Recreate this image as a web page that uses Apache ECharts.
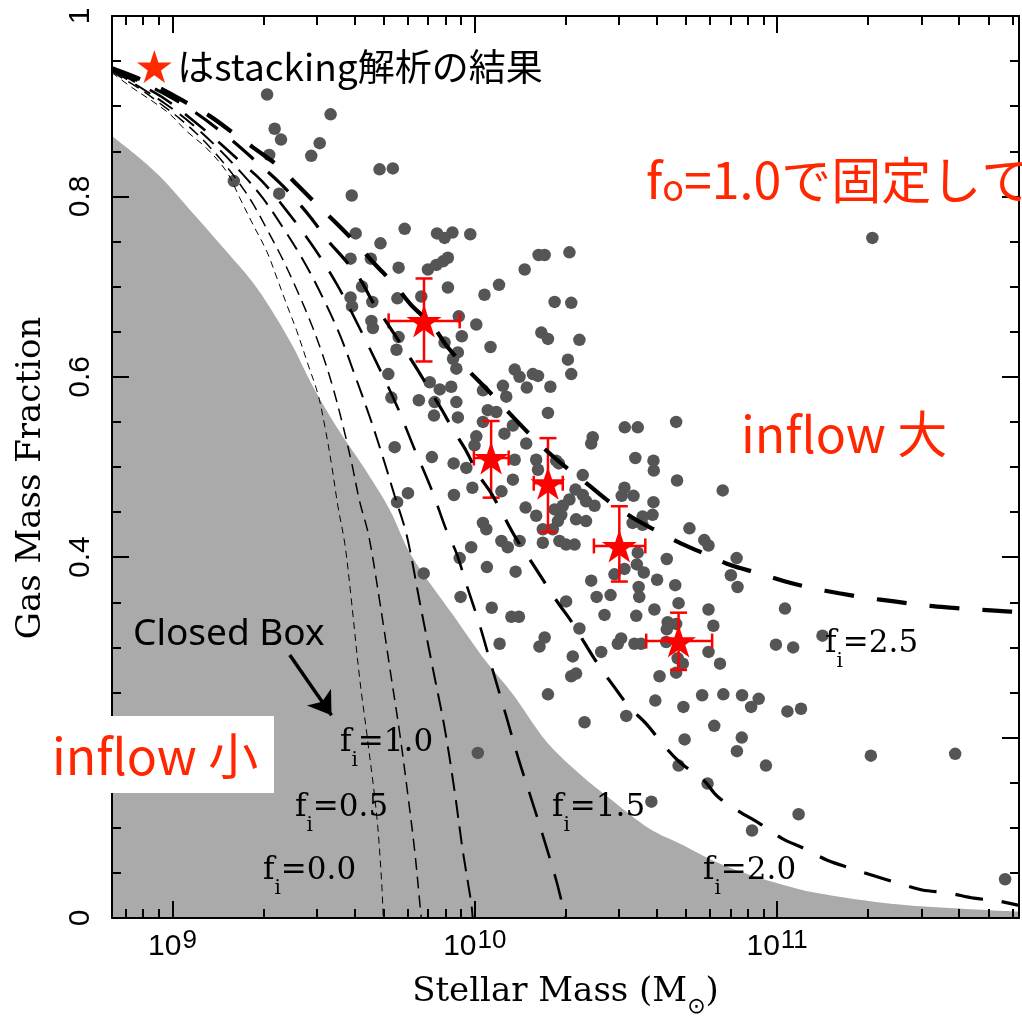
<!DOCTYPE html>
<html><head><meta charset="utf-8">
<style>html,body{margin:0;padding:0;background:#fff}#c{width:1022px;height:1023px}</style>
<script src="https://cdn.jsdelivr.net/npm/echarts@6/dist/echarts.min.js"></script>
</head><body><div id="c"></div><script>
// ---------- axis definitions ----------
const xMajorTicks = [9, 10, 11];             // log10(M*) of 10^9, 10^10, 10^11
const xTickExponents = ['9', '10', '11'];
const yMajorTicks = [0, 0.2, 0.4, 0.6, 0.8, 1];
const yTickLabels = ['0', '0.2', '0.4', '0.6', '0.8', '1'];
const yMinorTicks = [0.05,0.1,0.15,0.25,0.3,0.35,0.45,0.5,0.55,0.65,0.7,0.75,0.85,0.9,0.95];
const xMinorTicks = [];
[8, 9, 10, 11].forEach(function (n) { for (let k = 2; k <= 9; k++) { const v = Math.log10(k) + n; if (v > 8.8 && v < 11.8) xMinorTicks.push(v); } });

// ---------- closed box (grey region), log10 M* vs gas fraction ----------
const boxLogM = [8.80,8.879,8.959,9.058,9.168,9.278,9.388,9.465,9.542,9.630,9.718,9.790,9.928,10.038,10.126,10.236,10.346,10.456,10.578,10.688,10.798,10.908,11.018,11.128,11.348,11.569,11.80];
const boxFgas = [0.867,0.846,0.822,0.785,0.743,0.699,0.640,0.589,0.545,0.501,0.453,0.402,0.336,0.284,0.248,0.196,0.160,0.130,0.099,0.081,0.062,0.048,0.037,0.028,0.017,0.011,0.007];

// ---------- model curves (f_o = 1.0) ----------
const fi00LogM = [8.80,8.869,8.936,8.992,9.048,9.114,9.180,9.223,9.266,9.312,9.345,9.378,9.411,9.448,9.481,9.504,9.527,9.547,9.570,9.590,9.619,9.646,9.676,9.692,9.697];
const fi00Fgas = [0.937,0.920,0.905,0.891,0.872,0.853,0.827,0.798,0.769,0.739,0.710,0.680,0.651,0.614,0.581,0.545,0.501,0.457,0.415,0.358,0.266,0.196,0.112,0.039,0.0];
const fi05LogM = [8.80,8.893,8.959,9.025,9.091,9.157,9.216,9.266,9.315,9.362,9.408,9.454,9.494,9.530,9.563,9.593,9.619,9.649,9.686,9.719,9.752,9.778,9.801,9.818,9.823];
const fi05Fgas = [0.938,0.919,0.903,0.886,0.866,0.842,0.817,0.792,0.762,0.732,0.699,0.663,0.627,0.589,0.547,0.504,0.462,0.424,0.350,0.277,0.204,0.138,0.075,0.017,0.0];
const fi10LogM = [8.80,8.893,8.975,9.058,9.140,9.223,9.299,9.372,9.438,9.494,9.553,9.603,9.652,9.695,9.735,9.775,9.818,9.861,9.900,9.933,9.960,9.988,9.993];
const fi10Fgas = [0.940,0.921,0.903,0.882,0.857,0.828,0.798,0.762,0.726,0.690,0.647,0.602,0.556,0.512,0.468,0.424,0.350,0.277,0.211,0.141,0.075,0.017,0.0];
const fi15LogM = [8.80,8.893,8.975,9.058,9.140,9.223,9.296,9.378,9.464,9.543,9.613,9.679,9.742,9.798,9.857,9.907,9.940,9.973,10.016,10.059,10.102,10.145,10.188,10.231,10.270,10.30];
const fi15Fgas = [0.941,0.924,0.908,0.887,0.864,0.839,0.817,0.784,0.745,0.703,0.658,0.613,0.568,0.522,0.475,0.429,0.404,0.369,0.325,0.275,0.226,0.176,0.131,0.085,0.041,0.0];
const fi20LogM = [8.80,8.926,9.058,9.190,9.289,9.355,9.411,9.461,9.514,9.567,9.623,9.659,9.709,9.752,9.801,9.841,9.890,9.927,9.973,10.009,10.056,10.095,10.138,10.181,10.231,10.270,10.323,10.363,10.412,10.455,10.511,10.568,10.621,10.677,10.759,10.802,10.875,10.941,11.017,11.090,11.166,11.245,11.328,11.397,11.480,11.562,11.651,11.727,11.80];
const fi20Fgas = [0.941,0.922,0.897,0.864,0.835,0.815,0.795,0.775,0.751,0.731,0.707,0.685,0.660,0.638,0.613,0.591,0.564,0.542,0.517,0.493,0.470,0.446,0.420,0.398,0.372,0.352,0.327,0.305,0.279,0.259,0.234,0.215,0.193,0.173,0.152,0.135,0.118,0.105,0.088,0.077,0.064,0.055,0.046,0.039,0.031,0.028,0.022,0.019,0.014];
const fi25LogM = [8.80,8.893,8.965,9.051,9.124,9.206,9.272,9.352,9.415,9.481,9.543,9.613,9.669,9.735,9.791,9.857,9.910,9.976,10.032,10.105,10.165,10.231,10.297,10.373,10.439,10.521,10.597,10.683,10.759,10.848,10.931,11.027,11.113,11.205,11.295,11.387,11.476,11.575,11.658,11.757,11.80];
const fi25Fgas = [0.942,0.930,0.919,0.903,0.889,0.869,0.853,0.833,0.812,0.790,0.770,0.746,0.725,0.702,0.679,0.658,0.633,0.608,0.589,0.563,0.542,0.520,0.501,0.481,0.463,0.444,0.430,0.415,0.404,0.391,0.383,0.373,0.366,0.360,0.355,0.351,0.347,0.344,0.342,0.340,0.339];

// ---------- individual galaxies ----------
const galLogM = [9.313,9.523,9.338,9.359,9.487,9.459,9.320,9.203,9.353,9.593,9.685,9.729,9.606,9.768,9.875,9.900,9.926,9.985,
9.688,9.589,9.656,9.748,9.845,9.873,9.895,9.911,10.211,10.231,10.165,10.080,10.032,9.911,9.627,9.744,9.823,9.589,9.594,9.661,9.947,10.005,10.264,9.658,9.663,9.748,9.741,9.957,9.900,10.052,10.220,10.242,9.928,9.944,9.939,9.714,10.132,10.148,10.192,10.209,10.172,10.250,10.093,10.027,10.104,9.851,9.884,9.922,9.724,9.815,9.867,9.939,9.865,9.944,10.043,10.071,10.242,10.027,10.126,10.098,10.170,10.005,9.999,10.132,10.203,10.209,9.735,9.858,9.930,9.972,10.126,9.992,10.088,9.779,9.743,9.931,10.168,10.203,10.027,10.038,10.148,10.088,9.988,10.109,10.225,10.225,
10.313,10.319,10.346,10.308,10.319,10.496,10.539,10.666,10.390,10.385,
10.269,10.278,10.357,10.333,10.357,10.368,10.313,10.291,10.286,10.264,10.275,10.258,10.280,10.302,10.330,10.335,10.368,10.396,10.495,10.486,10.525,10.591,10.588,10.555,10.522,10.555,10.539,10.536,10.462,10.495,10.559,10.603,10.635,10.663,10.385,10.403,10.449,10.542,10.544,10.594,10.534,10.429,10.302,10.346,10.418,10.473,10.484,10.528,10.550,10.324,10.319,10.335,10.611,10.638,10.674,10.666,10.635,10.633,10.671,10.666,10.688,10.773,10.789,10.773,10.811,10.710,10.759,10.773,10.866,10.847,10.869,11.026,10.996,11.053,10.820,10.531,10.591,10.592,10.669,
11.150,10.597,10.690,10.752,10.822,10.884,10.939,10.914,11.034,11.079,10.792,10.694,10.883,10.867,10.963,10.674,10.770,11.310,11.589,11.071,10.917,11.754,10.584,
9.831,9.950,9.953,10.040,10.135,10.056,10.121,10.146,10.082,10.214,10.231,10.242,10.363,10.501,10.010,
11.315];
const galFgas = [0.913,0.891,0.875,0.863,0.859,0.845,0.846,0.817,0.803,0.801,0.830,0.831,0.759,0.764,0.759,0.754,0.760,0.758,
0.748,0.731,0.731,0.721,0.719,0.724,0.728,0.732,0.735,0.735,0.719,0.702,0.691,0.699,0.700,0.687,0.689,0.688,0.678,0.683,0.667,0.658,0.683,0.662,0.654,0.644,0.630,0.645,0.638,0.633,0.649,0.642,0.620,0.627,0.609,0.603,0.608,0.600,0.603,0.601,0.588,0.589,0.590,0.585,0.578,0.594,0.586,0.589,0.577,0.574,0.572,0.572,0.557,0.555,0.563,0.561,0.560,0.550,0.546,0.537,0.526,0.534,0.524,0.508,0.508,0.497,0.522,0.511,0.504,0.499,0.486,0.477,0.473,0.471,0.461,0.469,0.455,0.446,0.438,0.431,0.418,0.418,0.411,0.411,0.416,0.431,
0.738,0.682,0.641,0.619,0.603,0.544,0.544,0.550,0.533,0.526,
0.507,0.504,0.491,0.475,0.469,0.462,0.464,0.457,0.447,0.453,0.440,0.431,0.418,0.414,0.414,0.442,0.440,0.457,0.477,0.468,0.468,0.461,0.447,0.445,0.438,0.436,0.405,0.392,0.381,0.387,0.383,0.375,0.398,0.369,0.374,0.356,0.358,0.367,0.356,0.342,0.335,0.336,0.351,0.321,0.295,0.304,0.310,0.304,0.304,0.290,0.268,0.271,0.268,0.328,0.349,0.326,0.320,0.306,0.288,0.272,0.282,0.342,0.324,0.295,0.282,0.432,0.419,0.413,0.399,0.380,0.367,0.343,0.303,0.300,0.474,0.510,0.507,0.496,0.485,
0.313,0.241,0.234,0.247,0.248,0.247,0.243,0.234,0.229,0.232,0.213,0.198,0.200,0.185,0.169,0.169,0.149,0.180,0.182,0.115,0.097,0.043,0.129,
0.382,0.399,0.356,0.389,0.384,0.344,0.334,0.334,0.304,0.301,0.311,0.248,0.217,0.224,0.183,
0.754];

// ---------- stacking results ----------
const stackLogM   = [9.832, 10.054, 10.242, 10.478, 10.674];
const stackFgas   = [0.662, 0.510, 0.482, 0.4125, 0.307];
const stackLogMLo = [9.715, 9.997, 10.195, 10.394, 10.567];
const stackLogMHi = [9.950, 10.112, 10.291, 10.564, 10.785];
const stackFgasLo = [0.617, 0.466, 0.428, 0.373, 0.275];
const stackFgasHi = [0.709, 0.551, 0.532, 0.4565, 0.3385];

const STAR = 'path://M0,-100L22.45,-30.9L95.11,-30.9L36.33,11.8L58.78,80.9L0,38.2L-58.78,80.9L-36.33,11.8L-95.11,-30.9L-22.45,-30.9Z';
const STACK_NAME = 'はstacking解析の結果';
const BLACK = '#000';
const RED_TXT = '#ff2600';
const SERIF = 'DejaVu Serif';
const SANS = 'Liberation Sans';
const CJK = 'Noto Sans CJK JP';

function pairs(xs, ys) { return xs.map(function (x, i) { return [x, ys[i]]; }); }
function tickAxis(kind, pos, values, len, withLine) {
  const a = { type: 'value', position: pos, z: 10, silent: true,
    axisLine: { show: withLine, onZero: false, lineStyle: { color: BLACK, width: 2 } },
    axisTick: { show: true, inside: true, length: len, customValues: values, lineStyle: { color: BLACK, width: 2 } },
    axisLabel: { show: false }, splitLine: { show: false } };
  if (kind === 'x') { a.min = 8.8; a.max = 11.8; } else { a.min = 0; a.max = 1; }
  return a;
}
function curve(name, xs, ys, width, dash) {
  return { type: 'line', name: name, data: pairs(xs, ys), symbol: 'none', showSymbol: false,
    smooth: 0.35, silent: true, z: 6, clip: true,
    lineStyle: { color: BLACK, width: width, type: dash, cap: 'butt' } };
}

const xMain = tickAxis('x', 'bottom', xMajorTicks, 17, true);
xMain.axisLabel = { show: true, customValues: xMajorTicks, margin: 10,
  formatter: function (v) { const i = xMajorTicks.indexOf(Math.round(v)); return '{b|10}{s|' + xTickExponents[i] + '}'; },
  rich: { b: { fontSize: 30, fontFamily: SANS, color: BLACK, lineHeight: 34, verticalAlign: 'bottom' },
          s: { fontSize: 26, fontFamily: SANS, color: BLACK, lineHeight: 26, verticalAlign: 'top', padding: [0, 0, 12, 1] } } };
xMain.name = '{n|Stellar Mass (M}{sub|⊙}{n|)}';
xMain.nameLocation = 'middle';
xMain.nameGap = 57;
xMain.nameTextStyle = { rich: {
  n: { fontSize: 34, fontFamily: SERIF, color: BLACK, lineHeight: 34, verticalAlign: 'top' },
  sub: { fontSize: 22, fontFamily: 'DejaVu Sans', color: BLACK, lineHeight: 22, verticalAlign: 'top', padding: [21, 0, 0, 0] } } };

const yMain = tickAxis('y', 'left', yMajorTicks, 17, true);
yMain.axisLabel = { show: true, customValues: yMajorTicks, rotate: 90, margin: 16, fontSize: 30, fontFamily: SANS, color: BLACK,
  formatter: function (v) { let best = 0; yMajorTicks.forEach(function (t, i) { if (Math.abs(t - v) < Math.abs(yMajorTicks[best] - v)) best = i; }); return yTickLabels[best]; } };
yMain.name = 'Gas Mass Fraction';
yMain.nameLocation = 'middle';
yMain.nameRotate = 90;
yMain.nameGap = 64;
yMain.nameTextStyle = { fontSize: 34, fontFamily: SERIF, color: BLACK, padding: [0, 22, 0, 0] };

function fiLabel(val, x, yTop) {
  return { type: 'text', x: x, y: yTop, z: 60, silent: true,
    style: { text: '{m|f}{i|i}{m|=' + val + '}', align: 'left', verticalAlign: 'top',
      rich: { m: { fontSize: 31, fontFamily: SERIF, fill: BLACK, lineHeight: 31, verticalAlign: 'top' },
              i: { fontSize: 20, fontFamily: SERIF, fill: BLACK, lineHeight: 20, verticalAlign: 'top', padding: [24, 0, 0, 0] } } } };
}

const option = {
  animation: false,
  backgroundColor: '#ffffff',
  grid: { left: 112, right: 3, top: 16, bottom: 98, containLabel: false },
  legend: { left: 137, top: 48, padding: 0, itemWidth: 36, itemHeight: 33, selectedMode: false,
    data: [{ name: STACK_NAME, icon: STAR, itemStyle: { color: '#ff2a00' } }],
    textStyle: { fontSize: 37, fontFamily: CJK, color: BLACK } },
  xAxis: [xMain, tickAxis('x', 'bottom', xMinorTicks, 9, false), tickAxis('x', 'top', xMajorTicks, 17, true), tickAxis('x', 'top', xMinorTicks, 9, false)],
  yAxis: [yMain, tickAxis('y', 'left', yMinorTicks, 9, false), tickAxis('y', 'right', yMajorTicks, 17, true), tickAxis('y', 'right', yMinorTicks, 9, false)],
  series: [
    { type: 'line', name: 'Closed Box', data: pairs(boxLogM, boxFgas), symbol: 'none', showSymbol: false, silent: true,
      smooth: 0.35, z: 1, lineStyle: { width: 0, color: '#aaaaaa' },
      areaStyle: { color: '#aaaaaa', opacity: 1 } },
    { type: 'scatter', name: 'galaxies', data: pairs(galLogM, galFgas), symbol: 'circle', symbolSize: 12.5, silent: true, z: 3,
      itemStyle: { color: '#555555', opacity: 1 },
      markLine: { silent: true, symbol: ['none', 'arrow'], symbolSize: 22, label: { show: false },
        lineStyle: { color: BLACK, width: 3.5, type: 'solid' },
        data: [[{ coord: [9.388, 0.2915] }, { coord: [9.526, 0.2248] }]] } },
    { type: 'custom', name: 'errors', silent: true, z: 4, clip: true,
      data: stackLogM.map(function (x, i) { return [x, stackFgas[i], stackLogMLo[i], stackLogMHi[i], stackFgasLo[i], stackFgasHi[i]]; }),
      encode: { x: 0, y: 1 },
      renderItem: function (params, api) {
        const yv = api.value(1), xv = api.value(0);
        const xl = api.coord([api.value(2), yv]), xh = api.coord([api.value(3), yv]);
        const yl = api.coord([xv, api.value(4)]), yh = api.coord([xv, api.value(5)]);
        const st = { stroke: '#ff0000', lineWidth: 2.5 };
        const cv = 7.5, ch = 8.5;
        return { type: 'group', children: [
          { type: 'line', shape: { x1: xl[0], y1: xl[1], x2: xh[0], y2: xh[1] }, style: st },
          { type: 'line', shape: { x1: xl[0], y1: xl[1] - cv, x2: xl[0], y2: xl[1] + cv }, style: st },
          { type: 'line', shape: { x1: xh[0], y1: xh[1] - cv, x2: xh[0], y2: xh[1] + cv }, style: st },
          { type: 'line', shape: { x1: yl[0], y1: yl[1], x2: yh[0], y2: yh[1] }, style: st },
          { type: 'line', shape: { x1: yl[0] - ch, y1: yl[1], x2: yl[0] + ch, y2: yl[1] }, style: st },
          { type: 'line', shape: { x1: yh[0] - ch, y1: yh[1], x2: yh[0] + ch, y2: yh[1] }, style: st }
        ] };
      } },
    { type: 'scatter', name: STACK_NAME, data: pairs(stackLogM, stackFgas), symbol: STAR, symbolSize: [35, 33], silent: true, z: 5,
      itemStyle: { color: '#ff0000', opacity: 1 } },
    curve('fi=0.0', fi00LogM, fi00Fgas, 1, [7, 5]),
    curve('fi=0.5', fi05LogM, fi05Fgas, 1.5, [12, 7]),
    curve('fi=1.0', fi10LogM, fi10Fgas, 2, [18, 9]),
    curve('fi=1.5', fi15LogM, fi15Fgas, 2.6, [26, 17]),
    curve('fi=2.0', fi20LogM, fi20Fgas, 3.2, [28, 19]),
    curve('fi=2.5', fi25LogM, fi25Fgas, 4.2, [30, 23])
  ],
  graphic: [
    { type: 'text', x: 646, y: 180, z: 60, silent: true,
      style: { text: '{a|f}{o|o}{a|=1.0で固定して}', align: 'left', verticalAlign: 'middle',
        rich: { a: { fontSize: 50, fontFamily: CJK, fill: RED_TXT, lineHeight: 50 },
                o: { fontSize: 36, fontFamily: CJK, fill: RED_TXT, lineHeight: 36, verticalAlign: 'bottom', padding: [0, 0, 0, 0] } } } },
    { type: 'text', x: 741, y: 434, z: 60, silent: true,
      style: { text: 'inflow 大', fontSize: 50, fontFamily: CJK, fill: RED_TXT, align: 'left', verticalAlign: 'middle' } },
    { type: 'rect', z: 70, silent: true, shape: { x: 30, y: 716, width: 244, height: 77 }, style: { fill: '#ffffff' } },
    { type: 'text', x: 52, y: 756, z: 71, silent: true,
      style: { text: 'inflow 小', fontSize: 50, fontFamily: CJK, fill: RED_TXT, align: 'left', verticalAlign: 'middle' } },
    { type: 'text', x: 133, y: 634, z: 60, silent: true,
      style: { text: 'Closed Box', fontSize: 37, fontFamily: 'Noto Sans', fill: BLACK, align: 'left', verticalAlign: 'middle' } },
    fiLabel('1.0', 340, 727),
    fiLabel('0.5', 295, 792),
    fiLabel('0.0', 263, 855),
    fiLabel('1.5', 552, 792),
    fiLabel('2.0', 703, 855),
    fiLabel('2.5', 825, 628)
  ]
};
const chart = echarts.init(document.getElementById('c'));
chart.setOption(option);
</script></body></html>
